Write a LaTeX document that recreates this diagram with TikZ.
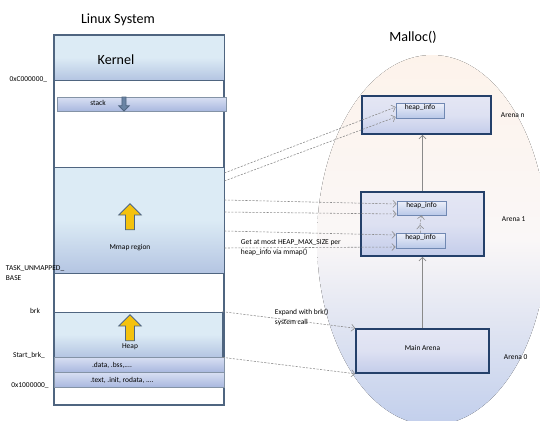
\documentclass[tikz,border=0pt]{standalone}
\usepackage{fontspec}
\setmainfont{Carlito}
\usetikzlibrary{positioning,fit,shapes.arrows,arrows.meta}
\definecolor{bandline}{HTML}{4F6580}
\definecolor{kerntop}{HTML}{DCEBF5}
\definecolor{kernbot}{HTML}{B4C5E2}
\definecolor{segtop}{HTML}{D9E0F3}
\definecolor{segbot}{HTML}{A9B8DF}
\definecolor{arenaline}{HTML}{24406A}
\definecolor{arenatop}{HTML}{E4E6F4}
\definecolor{arenabot}{HTML}{C3CCEA}
\definecolor{infoline}{HTML}{7088B2}
\definecolor{infotop}{HTML}{EDF0FA}
\definecolor{infobot}{HTML}{B9C8E8}
\definecolor{yellowup}{HTML}{F4C20D}
\definecolor{stackblue}{HTML}{6A84A4}
\definecolor{linkgrey}{HTML}{8A8A8A}
\definecolor{bgpeach}{HTML}{FDF3EB}
\definecolor{bgmid}{HTML}{FAF7F7}
\definecolor{bgblue}{HTML}{C2CFEC}

\begin{document}
\begin{tikzpicture}[x=0.025cm,y=-0.025cm,>={Straight Barb[length=2.5pt,width=5pt]},
  every node/.style={font=\fontsize{5.3}{7}\selectfont},
  title/.style={font=\fontsize{10}{12}\selectfont},
  region/.style={draw=bandline,line width=0.5pt,inner sep=0pt,top color=kerntop,bottom color=kernbot,middle color=kerntop},
  segment/.style={draw=bandline!70,line width=0.4pt,inner sep=0pt,top color=segtop,bottom color=segbot},
  arena/.style={draw=arenaline,line width=1.1pt,inner sep=0pt,top color=arenatop,bottom color=arenabot,middle color=arenatop!80!arenabot},
  info/.style={draw=infoline,line width=0.4pt,inner sep=0pt,top color=infotop,bottom color=infobot},
  growarrow/.style={single arrow,draw=bandline,fill=yellowup,line width=0.6pt,inner sep=0.1cm,single arrow head extend=0.17cm,single arrow head indent=0pt,minimum height=0.65cm},
  link/.style={->,linkgrey,line width=0.4pt,dash pattern=on 1.5pt off 1pt},
  chain/.style={->,linkgrey,line width=0.5pt}]
  \useasboundingbox (0,0) rectangle (540,421);

  % background behind the arenas
  \fill[top color=bgpeach,bottom color=bgblue,middle color=bgmid] (432,240) ellipse [x radius=115,y radius=185];

  % linux address space
  \node[draw=bandline,line width=0.8pt,fill=white,inner sep=0pt,fit={(54,35) (224,405)}] (column) {};
  \node[region,fit={(54,35) (224,80)}] (kern) {};
  \node[segment,fit={(57,97) (226,111)}] (stack) {};
  \node[region,fit={(54,167) (224,273)}] (mmap) {};
  \node[region,fit={(54,312) (222,357)}] (heap) {};
  \node[segment,fit={(54,357) (224,372)}] (data) {};
  \node[segment,fit={(54,372) (224,387)}] (text) {};

  \node[growarrow,rotate=90] (mmapup) at (130,219) {};
  \node[growarrow,rotate=90] (heapup) at (130,330) {};
  \node[growarrow,fill=stackblue,inner sep=0.04cm,single arrow head extend=0.08cm,minimum height=0.35cm,rotate=-90] (stackdown) at (124,103) {};

  \node[title] (linux) at (118,20) {Linux System};
  \node[title] (kernel) at (116,60) {Kernel};
  \node (stacklbl) at (98,103) {stack};
  \node (mmaplbl) at (130,248) {Mmap region};
  \node (heaplbl) at (130,347) {Heap};
  \node (datalbl) at (112,365) {.data, .bss,....};
  \node (textlbl) at (122,380) {.text, .init, rodata, ....};

  \node[anchor=east] (kaddr) at (52,80) {0xC000000\_};
  \node[anchor=west,align=left] (taskaddr) at (1,273) {TASK\_UNMAPPED\_\\BASE};
  \node (brkaddr) at (35,311) {brk};
  \node (startbrk) at (29,355) {Start\_brk\_};
  \node (uaddr) at (30,386) {0x1000000\_};

  % malloc arenas
  \node[title] (malloc) at (413,37) {Malloc()};
  \node[arena,fit={(362,96) (491,134)}] (arenan) {};
  \node[arena,fit={(361,192) (484,256)}] (arena1) {};
  \node[arena,fit={(356,329) (489,373)}] (arena0) {Main Arena};
  \node[info,fit={(396,103) (444,118)}] (hin) {heap\_info};
  \node[info,fit={(397,201) (446,215)}] (hi1a) {heap\_info};
  \node[info,fit={(396,233) (445,248)}] (hi1b) {heap\_info};

  \node[anchor=west] (arenanlbl) at (496,115) {Arena n};
  \node[anchor=west] (arena1lbl) at (497,219) {Arena 1};
  \node[anchor=west] (arena0lbl) at (499,357) {Arena 0};

  \draw[chain] (arena0.north) -- (arena1.south);
  \draw[chain] (arena1.north) -- (arena1.north |- arenan.south);
  \coordinate (infomid) at (420,225);
  \draw[link] (hi1b.north) -- (infomid);
  \draw[link] (infomid) -- (hi1a.south);

  % mmap and brk links
  \draw[link] (mmap.east |- 0,173) -- (hin.west |- 0,107);
  \draw[link] (mmap.east |- 0,181) -- (hin.west |- 0,117);
  \draw[link] (mmap.east |- 0,200) -- (hi1a.west |- 0,204);
  \draw[link] (mmap.east |- 0,212) -- (hi1a.west |- 0,214);
  \draw[link] (mmap.east |- 0,231) -- (hi1b.west |- 0,235);
  \draw[link] (mmap.east |- 0,248) -- (hi1b.west |- 0,247);
  \node[anchor=west,align=left] (mmapnote) at (236,248) {Get at most HEAP\_MAX\_SIZE per\\heap\_info via mmap()};

  \draw[link] (heap.north east) -- (arena0.north west);
  \draw[link] (heap.south east) -- (arena0.south west);
  \node[anchor=west,align=left] (brknote) at (270,317) {Expand with brk()\\system call};
\end{tikzpicture}
\end{document}
